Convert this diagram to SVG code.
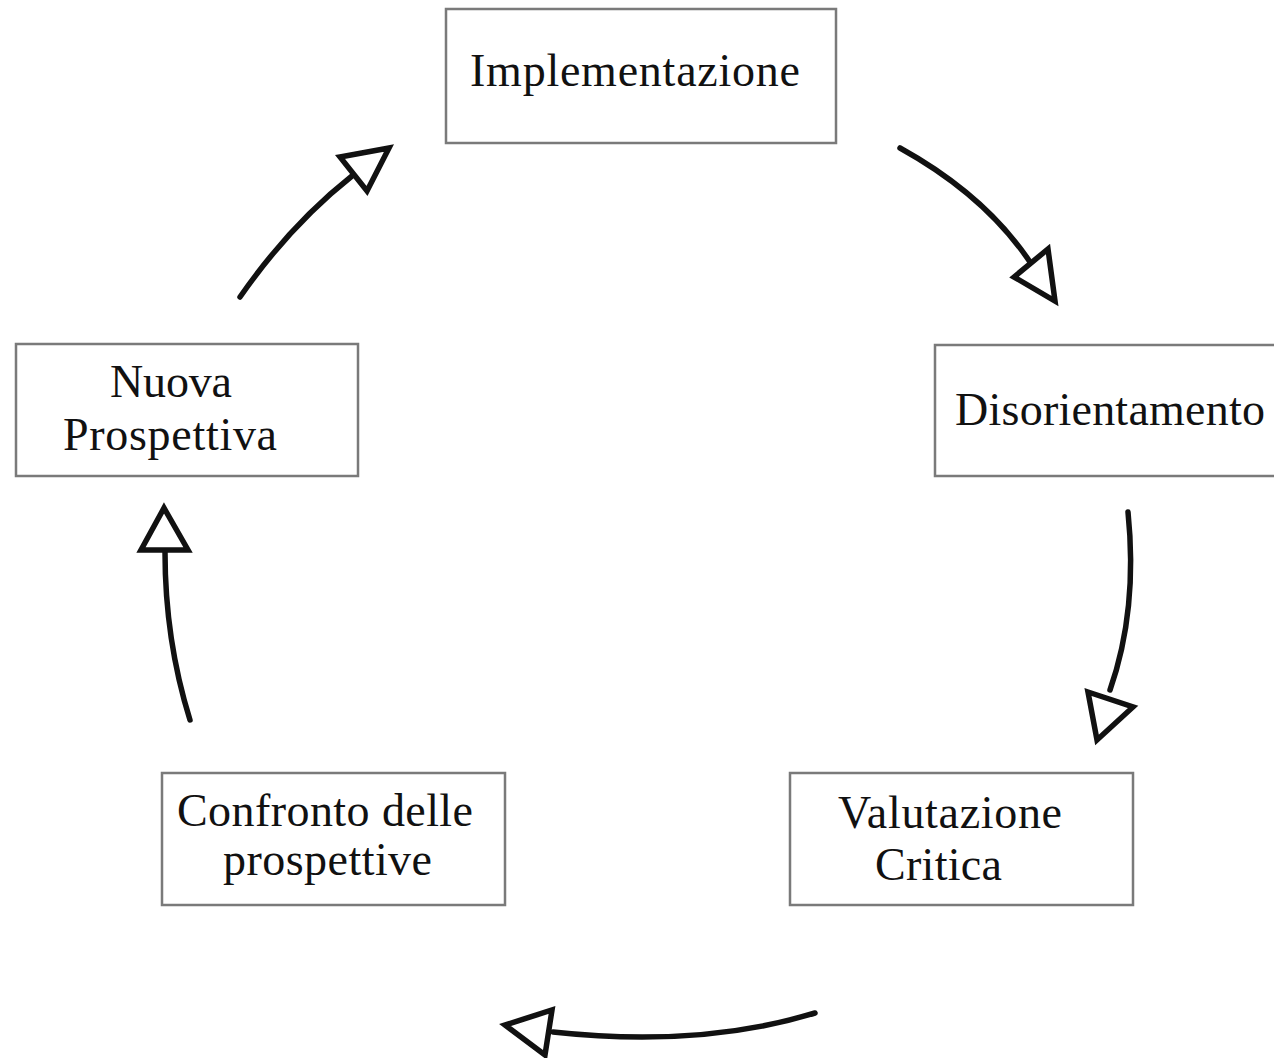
<svg xmlns="http://www.w3.org/2000/svg" width="1274" height="1058" viewBox="0 0 1274 1058">
<style>
.box{fill:#fff;stroke:#7a7a7a;stroke-width:2.5}
.lbl{font-family:"Liberation Serif","Times New Roman",serif;font-size:46px;fill:#111}
.arc{fill:none;stroke:#111;stroke-width:5.5;stroke-linecap:round}
.head{fill:#fff;stroke:#111;stroke-width:5.5;stroke-linejoin:miter}
</style>
<rect width="1274" height="1058" fill="#fff"/>
<g id="node-implementazione">
<rect class="box" x="446" y="9" width="390" height="134"/>
<text class="lbl" x="470" y="86" textLength="330" lengthAdjust="spacing">Implementazione</text>
</g>
<g id="node-disorientamento">
<rect class="box" x="935" y="345" width="400" height="131"/>
<text class="lbl" x="955" y="425" textLength="310" lengthAdjust="spacing">Disorientamento</text>
</g>
<g id="node-valutazione">
<rect class="box" x="790" y="773" width="343" height="132"/>
<text class="lbl" x="838" y="828" textLength="224" lengthAdjust="spacing">Valutazione</text>
<text class="lbl" x="875" y="880" textLength="127" lengthAdjust="spacing">Critica</text>
</g>
<g id="node-confronto">
<rect class="box" x="162" y="773" width="343" height="132"/>
<text class="lbl" x="177" y="826" textLength="296" lengthAdjust="spacing">Confronto delle</text>
<text class="lbl" x="223" y="875" textLength="209" lengthAdjust="spacing">prospettive</text>
</g>
<g id="node-nuova">
<rect class="box" x="16" y="344" width="342" height="132"/>
<text class="lbl" x="110" y="397" textLength="122" lengthAdjust="spacing">Nuova</text>
<text class="lbl" x="63" y="450" textLength="214" lengthAdjust="spacing">Prospettiva</text>
</g>
<g id="connectors">
<path class="arc" d="M900,148 Q985,195 1030,262"/>
<polygon class="head" points="1014,277 1048,249 1055,301"/>
<path class="arc" d="M1128,512 Q1138,610 1110,690"/>
<polygon class="head" points="1088,692 1133,707 1097,740"/>
<path class="arc" d="M815,1013 Q700,1048 553,1032"/>
<polygon class="head" points="552,1010 545,1055 505,1025"/>
<path class="arc" d="M190,720 Q165,640 165,552"/>
<polygon class="head" points="141,550 188,550 164,508"/>
<path class="arc" d="M240,297 Q290,225 352,176"/>
<polygon class="head" points="340,157 389,148 367,191"/>
</g>
</svg>
